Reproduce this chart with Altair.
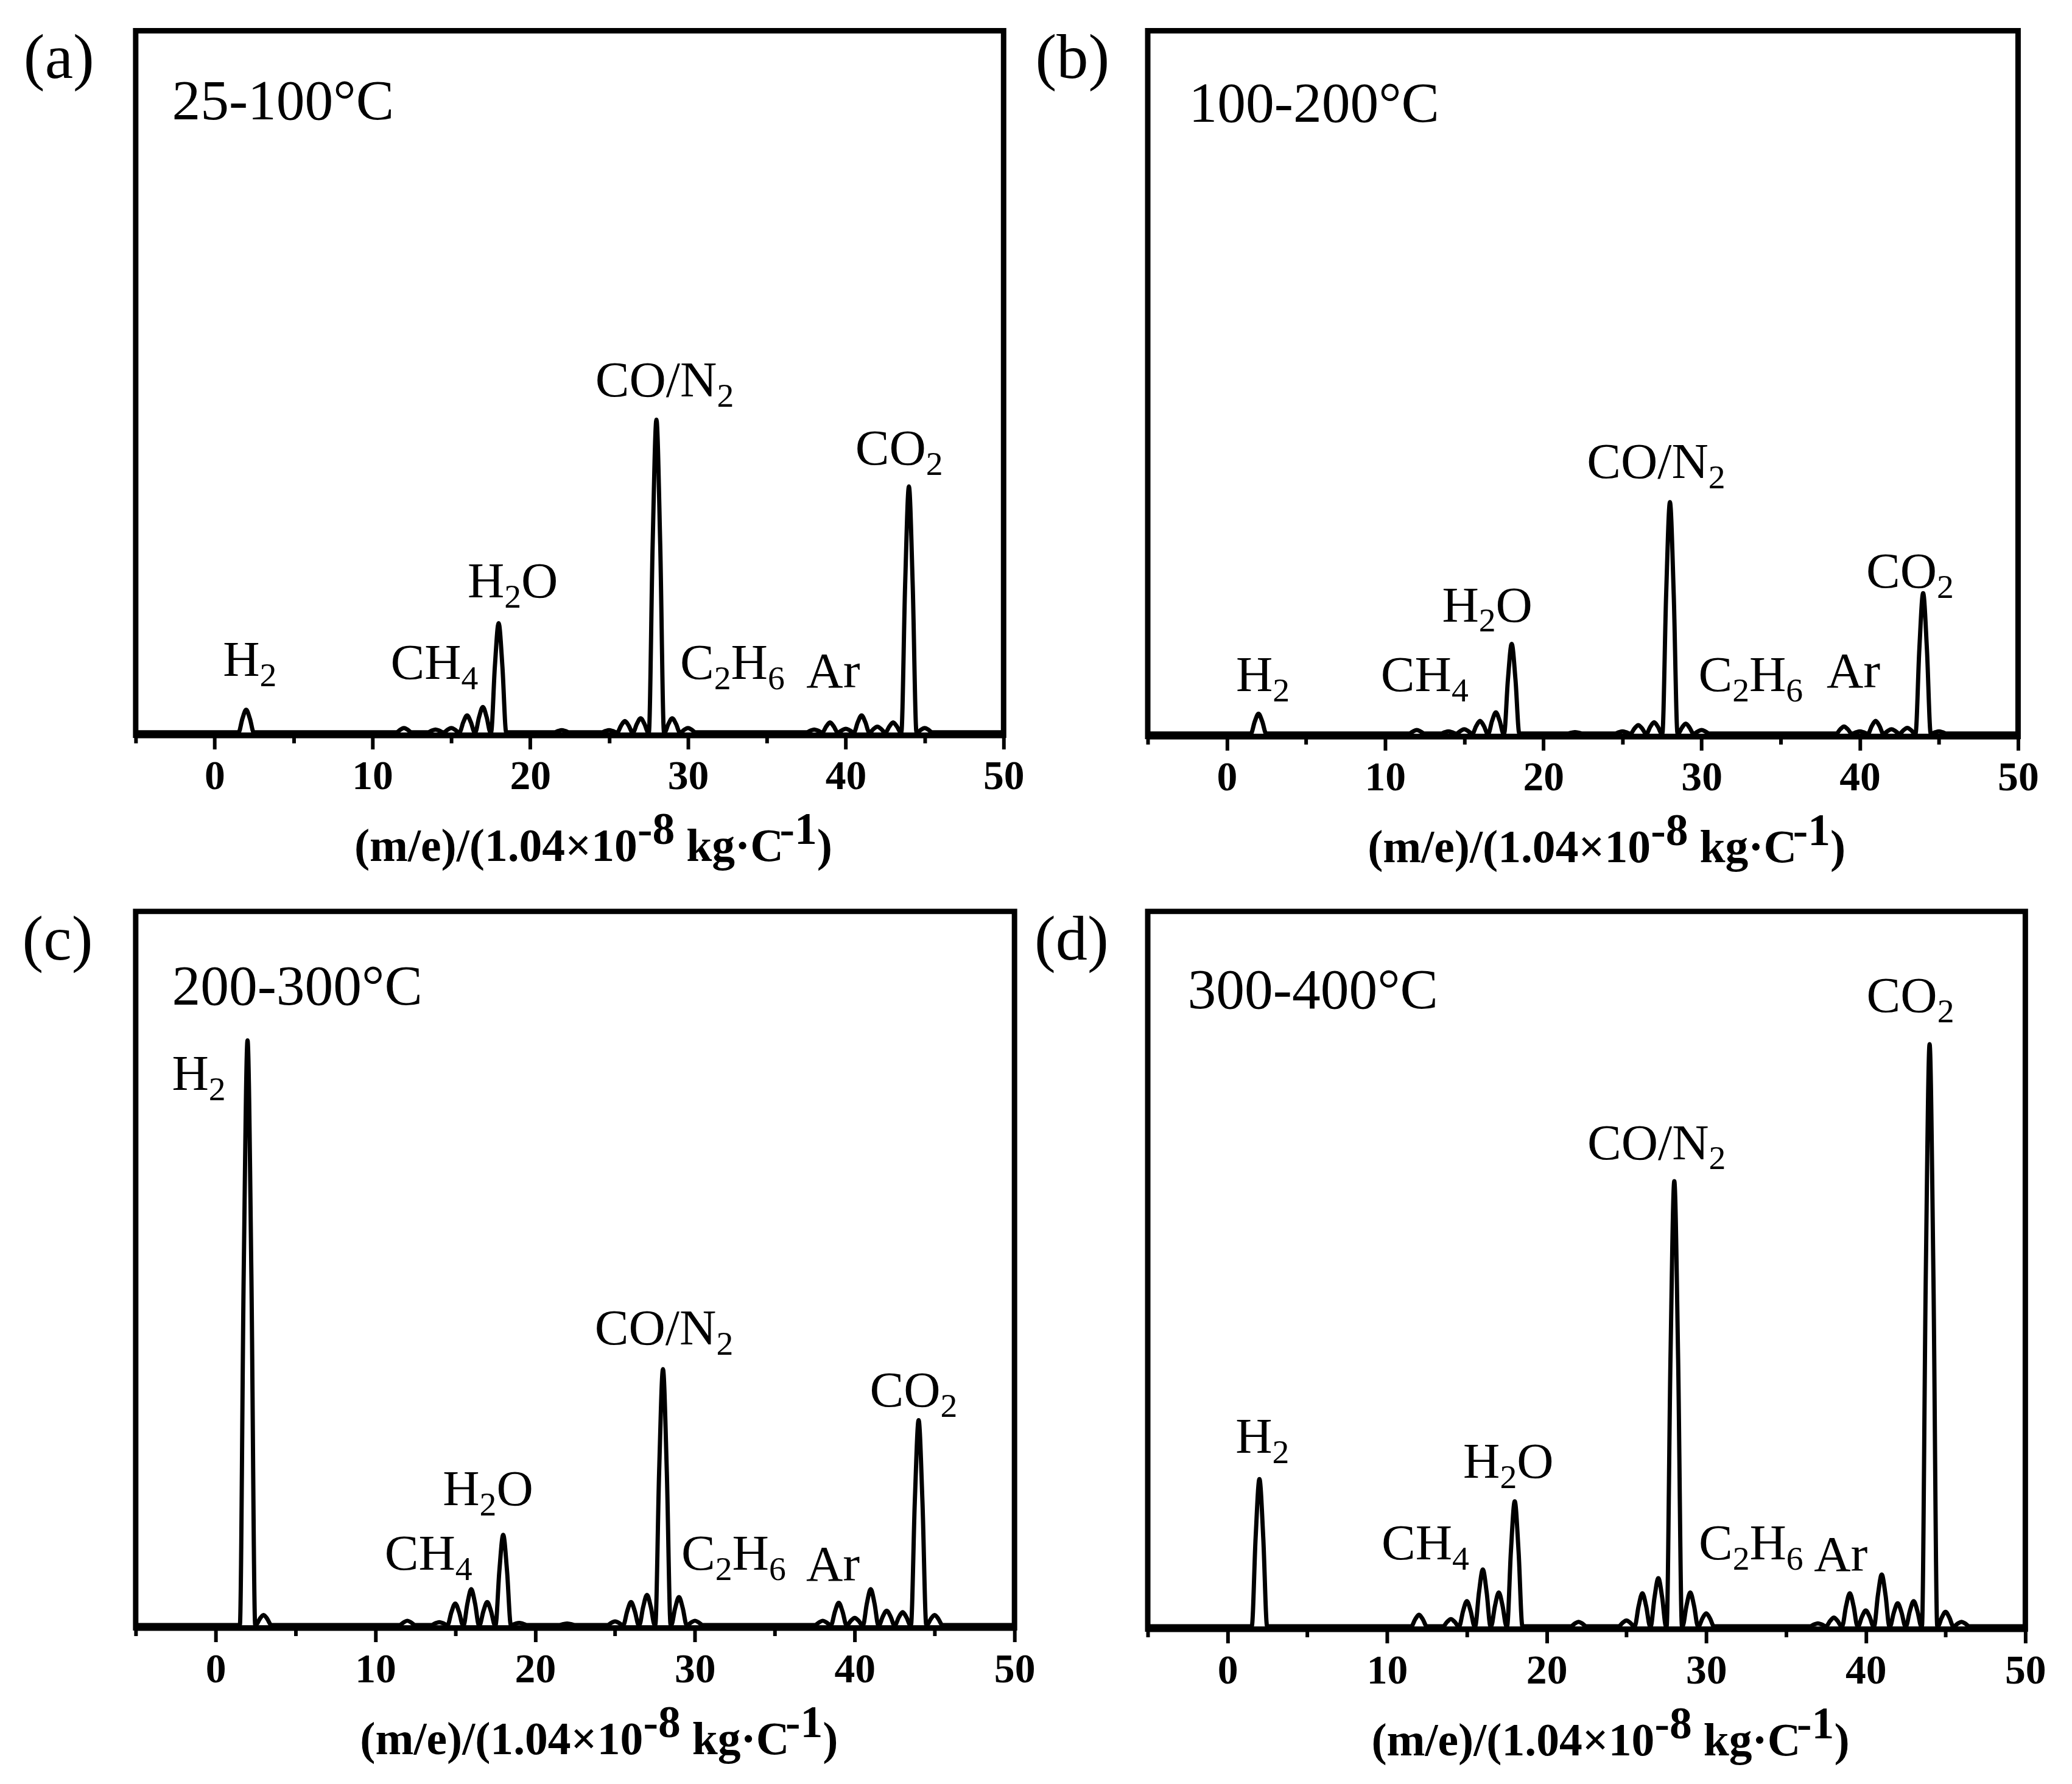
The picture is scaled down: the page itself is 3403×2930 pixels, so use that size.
import altair as alt
import pandas as pd

# ---------------- data ----------------
panel_letters = ["(a)", "(b)", "(c)", "(d)"]
temp_labels = ["25-100°C", "100-200°C", "200-300°C", "300-400°C"]

# peak positions (m/e) and apex heights (% of plot height)
masses_a = [2, 12, 14, 15, 16, 17, 18, 22, 25, 26, 27, 28, 29, 30, 38, 39, 40, 41, 42, 43, 44, 45]
heights_a = [3.6, 1.0, 0.8, 1.0, 2.8, 4.0, 15.9, 0.7, 0.7, 2.0, 2.4, 44.8, 2.4, 1.0, 0.8, 1.8, 0.9, 2.8, 1.2, 1.8, 35.3, 1.0]

masses_b = [2, 12, 14, 15, 16, 17, 18, 22, 25, 26, 27, 28, 29, 30, 39, 40, 41, 42, 43, 44, 45]
heights_b = [3.2, 0.9, 0.7, 1.0, 2.2, 3.4, 13.1, 0.6, 0.7, 1.6, 2.0, 33.2, 1.8, 0.9, 1.4, 0.7, 2.2, 1.0, 1.2, 20.3, 0.7]

masses_c = [2, 3, 12, 14, 15, 16, 17, 18, 19, 22, 25, 26, 27, 28, 29, 30, 38, 39, 40, 41, 42, 43, 44, 45]
heights_c = [82.0, 1.8, 1.0, 0.8, 3.4, 5.4, 3.6, 13.0, 0.7, 0.6, 0.9, 3.6, 4.6, 36.1, 4.3, 1.0, 1.0, 3.5, 1.4, 5.4, 2.4, 2.2, 29.0, 1.8]

masses_d = [2, 12, 14, 15, 16, 17, 18, 22, 25, 26, 27, 28, 29, 30, 37, 38, 39, 40, 41, 42, 43, 44, 45, 46]
heights_d = [20.9, 2.0, 1.4, 3.9, 8.3, 5.1, 17.8, 1.0, 1.2, 5.0, 7.1, 62.4, 5.1, 2.2, 0.8, 1.6, 5.0, 2.6, 7.6, 3.6, 3.9, 81.5, 2.4, 1.0]

species = ["H2", "CH4", "H2O", "CO/N2", "C2H6", "Ar", "CO2"]
# label anchor (left edge in m/e units, baseline in % of plot height)
label_x_a = [0.53, 11.15, 16.03, 24.13, 29.5, 37.5, 40.6]
label_y_a = [8.4, 8.0, 19.6, 48.1, 8.0, 6.8, 38.4]
label_x_b = [0.58, 9.73, 13.6, 22.75, 29.8, 37.9, 40.4]
label_y_b = [6.4, 6.4, 16.3, 36.6, 6.4, 6.9, 21.1]
label_x_c = [-2.73, 10.58, 14.22, 23.73, 29.15, 36.96, 40.94]
label_y_c = [75.1, 8.1, 17.1, 39.6, 8.1, 6.6, 30.9]
label_x_d = [0.50, 9.65, 14.77, 22.55, 29.53, 36.75, 40.05]
label_y_d = [24.6, 9.7, 21.1, 65.5, 9.7, 8.1, 86.0]

temp_x = [-2.7, -2.4, -2.73, -2.5]
temp_y = [87.4, 87.1, 87.0, 86.5]

x_ticks = [-5, 0, 5, 10, 15, 20, 25, 30, 35, 40, 45, 50]
axis_title_parts = [("(m/e)/(1.04×10", "main"), ("-8", "sup"), (" ", "main"),
                    ("kg·C", "main"), ("-1", "sup"), (")", "main")]

# ---------------- styling / layout ----------------
FONT = "Liberation Serif"
panel_w = [1433, 1437, 1451, 1449]
panel_h = [1163, 1165, 1183, 1185]
X_DOM = [-5, 50]
Y_DOM = [0, 100]
BASE = 0.4                      # trace baseline just above axis
PEAK_OFFS = [-0.48, -0.24, 0.0, 0.24, 0.48]   # peak outline (drawing style)
PEAK_FRAC = [0.0, 0.6, 1.0, 0.6, 0.0]

LBL = 84
SUB = 56
SUB_DROP = 17
TITLE = 76
SUP = 74
SUP_RAISE = 28

REG = {"C": 0.667, "O": 0.722, "/": 0.278, "N": 0.722, "H": 0.722, "A": 0.722, "r": 0.333}
BOLD = {"(": 0.333, ")": 0.333, "m": 0.833, "/": 0.278, "e": 0.444, ".": 0.25, "×": 0.570,
        "-": 0.333, " ": 0.25, "k": 0.556, "g": 0.5, "·": 0.25, "C": 0.722}
for d in "0123456789":
    REG[d] = 0.5
    BOLD[d] = 0.5


def wid(text, size, table):
    return sum(table.get(c, 0.5) for c in text) * size


def split_formula(name):
    parts = []
    prev_alpha = False
    for ch in name:
        kind = "sub" if (ch.isdigit() and prev_alpha) else "main"
        if parts and parts[-1][1] == kind:
            parts[-1] = (parts[-1][0] + ch, kind)
        else:
            parts.append((ch, kind))
        prev_alpha = ch.isalpha()
    return parts


masses = [masses_a, masses_b, masses_c, masses_d]
heights = [heights_a, heights_b, heights_c, heights_d]
lab_x = [label_x_a, label_x_b, label_x_c, label_x_d]
lab_y = [label_y_a, label_y_b, label_y_c, label_y_d]

x_axis = alt.Axis(
    values=x_ticks,
    labelExpr="datum.value % 10 === 0 ? datum.label : ''",
    labelOverlap=False,
    labelFlush=False,
    tickSize={"condition": {"test": "datum.value % 10 === 0", "value": 23}, "value": 13},
    tickWidth=6,
    tickColor="black",
    domainWidth=9,
    domainColor="black",
    grid=False,
    title=None,
    labelFont=FONT,
    labelFontSize=68,
    labelFontWeight="bold",
    labelColor="black",
    labelPadding=12,
)


def make_panel(i):
    W, H = panel_w[i], panel_h[i]
    ux = (X_DOM[1] - X_DOM[0]) / W   # data units per pixel
    uy = (Y_DOM[1] - Y_DOM[0]) / H

    # trace
    xs, ys = [X_DOM[0]], [BASE]
    for m, h in zip(masses[i], heights[i]):
        for o, f in zip(PEAK_OFFS, PEAK_FRAC):
            xs.append(m + o)
            ys.append(BASE + (h - BASE) * f)
    xs.append(X_DOM[1])
    ys.append(BASE)
    trace = pd.DataFrame({"x": xs, "y": ys})

    # regular texts (species labels, temperature, panel letter)
    rows = []
    for name, lx, ly in zip(species, lab_x[i], lab_y[i]):
        off = 0.0
        for txt, kind in split_formula(name):
            size = LBL if kind == "main" else SUB
            dy = 0 if kind == "main" else -SUB_DROP * uy
            rows.append({"x": lx + off * ux, "y": ly + dy, "t": txt, "s": size})
            off += wid(txt, size, REG)
    rows.append({"x": temp_x[i], "y": temp_y[i], "t": temp_labels[i], "s": 94})
    rows.append({"x": -12.1, "y": 93.3, "t": panel_letters[i], "s": 105})
    texts = pd.DataFrame(rows)

    # bold axis title with superscripts
    total = sum(wid(t, TITLE if k == "main" else SUP, BOLD) for t, k in axis_title_parts)
    off = -total / 2
    trows = []
    base_y = -208 * uy
    for t, k in axis_title_parts:
        size = TITLE if k == "main" else SUP
        if t.strip():
            trows.append({"x": 24.0 + off * ux,
                          "y": base_y + (SUP_RAISE * uy if k == "sup" else 0),
                          "t": t, "s": size})
        off += wid(t, size, BOLD)
    tdf = pd.DataFrame(trows)

    xs_ = alt.Scale(domain=X_DOM, nice=False, zero=False)
    ys_ = alt.Scale(domain=Y_DOM, nice=False, zero=False)

    line = alt.Chart(trace).mark_line(color="black", strokeWidth=7, interpolate="monotone",
                                      strokeJoin="round").encode(
        x=alt.X("x:Q", scale=xs_, axis=x_axis),
        y=alt.Y("y:Q", scale=ys_, axis=None),
        order="x:Q",
    )
    lab = alt.Chart(texts).mark_text(font=FONT, align="left", baseline="alphabetic", color="black").encode(
        x=alt.X("x:Q", scale=xs_, axis=x_axis),
        y=alt.Y("y:Q", scale=ys_, axis=None),
        text="t:N",
        size=alt.Size("s:Q", scale=None, legend=None),
    )
    ttl = alt.Chart(tdf).mark_text(font=FONT, fontWeight="bold", align="left", baseline="alphabetic",
                                   color="black").encode(
        x=alt.X("x:Q", scale=xs_, axis=x_axis),
        y=alt.Y("y:Q", scale=ys_, axis=None),
        text="t:N",
        size=alt.Size("s:Q", scale=None, legend=None),
    )
    return alt.layer(line, lab, ttl).properties(width=W, height=H)


chart = alt.concat(
    *[make_panel(i) for i in range(4)],
    columns=2,
    spacing={"row": 289, "column": 220},
    bounds="flush",
).properties(
    padding={"left": 24, "top": 24, "right": 30, "bottom": 30},
    background="white",
).configure_view(
    stroke="black", strokeWidth=9, fill="white"
)

chart.save("out.html", embed_options={"renderer": "svg", "actions": False})
